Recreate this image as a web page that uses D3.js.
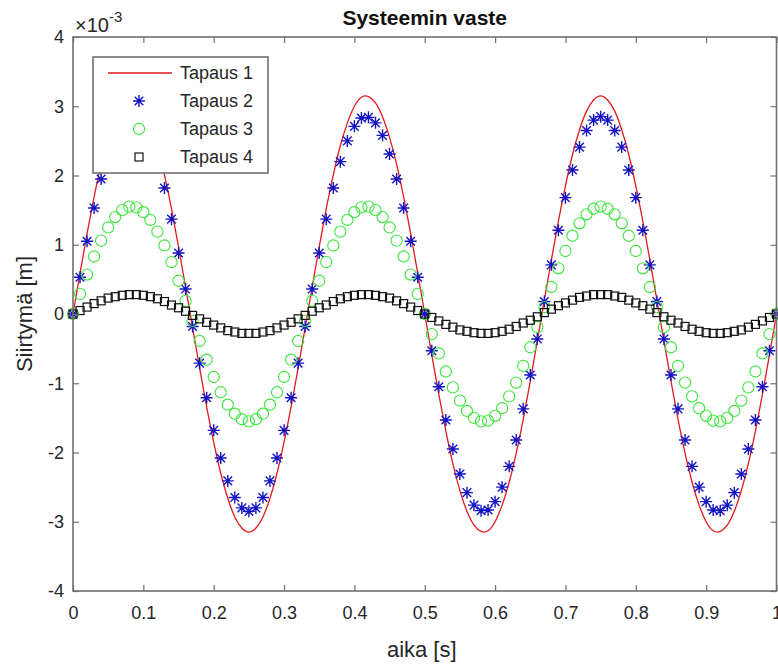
<!DOCTYPE html>
<html>
<head>
<meta charset="utf-8">
<script src="https://cdn.jsdelivr.net/npm/d3@7"></script>
<style>
    body { margin: 0; background: #fff; }
    svg { display: block; font-family: "Liberation Sans", Arial, sans-serif; }
</style>
</head>
<body>
<svg id="chart" width="778" height="664"></svg>
<script>
// Sample times [s]
const time = [
    0, 0.01, 0.02, 0.03, 0.04, 0.05, 0.06, 0.07, 0.08, 0.09,
    0.10, 0.11, 0.12, 0.13, 0.14, 0.15, 0.16, 0.17, 0.18, 0.19,
    0.20, 0.21, 0.22, 0.23, 0.24, 0.25, 0.26, 0.27, 0.28, 0.29,
    0.30, 0.31, 0.32, 0.33, 0.34, 0.35, 0.36, 0.37, 0.38, 0.39,
    0.40, 0.41, 0.42, 0.43, 0.44, 0.45, 0.46, 0.47, 0.48, 0.49,
    0.50, 0.51, 0.52, 0.53, 0.54, 0.55, 0.56, 0.57, 0.58, 0.59,
    0.60, 0.61, 0.62, 0.63, 0.64, 0.65, 0.66, 0.67, 0.68, 0.69,
    0.70, 0.71, 0.72, 0.73, 0.74, 0.75, 0.76, 0.77, 0.78, 0.79,
    0.80, 0.81, 0.82, 0.83, 0.84, 0.85, 0.86, 0.87, 0.88, 0.89,
    0.90, 0.91, 0.92, 0.93, 0.94, 0.95, 0.96, 0.97, 0.98, 0.99,
    1.00
];

// Displacement, in units of 1e-3 m
const tapaus1 = [
    0,
    0.59, 1.16, 1.69, 2.16, 2.55, 2.85, 3.05, 3.14, 3.13, 3.00, 2.76, 2.43, 2.01, 1.52, 0.97, 0.39,
    -0.20, -0.78, -1.34, -1.85, -2.30, -2.66, -2.93, -3.09, -3.15, -3.09, -2.93, -2.66, -2.30, -1.85, -1.34, -0.78, -0.20,
    0.39, 0.97, 1.52, 2.01, 2.43, 2.76, 3.00, 3.13, 3.14, 3.05, 2.85, 2.55, 2.16, 1.69, 1.16, 0.59,
    0,
    -0.59, -1.16, -1.69, -2.16, -2.55, -2.85, -3.05, -3.14, -3.13, -3.00, -2.76, -2.43, -2.01, -1.52, -0.97, -0.39,
    0.20, 0.78, 1.34, 1.85, 2.30, 2.66, 2.93, 3.09, 3.15, 3.09, 2.93, 2.66, 2.30, 1.85, 1.34, 0.78, 0.20,
    -0.39, -0.97, -1.52, -2.01, -2.43, -2.76, -3.00, -3.13, -3.14, -3.05, -2.85, -2.55, -2.16, -1.69, -1.16, -0.59,
    0
];
const tapaus2 = [
    0,
    0.53, 1.05, 1.53, 1.95, 2.31, 2.58, 2.76, 2.84, 2.83, 2.71, 2.50, 2.20, 1.82, 1.37, 0.88, 0.36,
    -0.18, -0.71, -1.21, -1.68, -2.08, -2.41, -2.65, -2.80, -2.85, -2.80, -2.65, -2.41, -2.08, -1.68, -1.21, -0.71, -0.18,
    0.36, 0.88, 1.37, 1.82, 2.20, 2.50, 2.71, 2.83, 2.84, 2.76, 2.58, 2.31, 1.95, 1.53, 1.05, 0.53,
    0,
    -0.53, -1.05, -1.53, -1.95, -2.31, -2.58, -2.76, -2.84, -2.83, -2.71, -2.50, -2.20, -1.82, -1.37, -0.88, -0.36,
    0.18, 0.71, 1.21, 1.68, 2.08, 2.41, 2.65, 2.80, 2.85, 2.80, 2.65, 2.41, 2.08, 1.68, 1.21, 0.71, 0.18,
    -0.36, -0.88, -1.37, -1.82, -2.20, -2.50, -2.71, -2.83, -2.84, -2.76, -2.58, -2.31, -1.95, -1.53, -1.05, -0.53,
    0
];
const tapaus3 = [
    0,
    0.29, 0.57, 0.83, 1.06, 1.25, 1.40, 1.50, 1.55, 1.54, 1.47, 1.36, 1.19, 0.99, 0.75, 0.48, 0.19,
    -0.10, -0.39, -0.66, -0.91, -1.13, -1.31, -1.44, -1.52, -1.55, -1.52, -1.44, -1.31, -1.13, -0.91, -0.66, -0.39, -0.10,
    0.19, 0.48, 0.75, 0.99, 1.19, 1.36, 1.47, 1.54, 1.55, 1.50, 1.40, 1.25, 1.06, 0.83, 0.57, 0.29,
    0,
    -0.29, -0.57, -0.83, -1.06, -1.25, -1.40, -1.50, -1.55, -1.54, -1.47, -1.36, -1.19, -0.99, -0.75, -0.48, -0.19,
    0.10, 0.39, 0.66, 0.91, 1.13, 1.31, 1.44, 1.52, 1.55, 1.52, 1.44, 1.31, 1.13, 0.91, 0.66, 0.39, 0.10,
    -0.19, -0.48, -0.75, -0.99, -1.19, -1.36, -1.47, -1.54, -1.55, -1.50, -1.40, -1.25, -1.06, -0.83, -0.57, -0.29,
    0
];
const tapaus4 = [
    0,
    0.05, 0.10, 0.15, 0.19, 0.23, 0.25, 0.27, 0.28, 0.28, 0.27, 0.25, 0.22, 0.18, 0.13, 0.09, 0.04,
    -0.02, -0.07, -0.12, -0.16, -0.20, -0.24, -0.26, -0.28, -0.28, -0.28, -0.26, -0.24, -0.20, -0.16, -0.12, -0.07, -0.02,
    0.04, 0.09, 0.13, 0.18, 0.22, 0.25, 0.27, 0.28, 0.28, 0.27, 0.25, 0.23, 0.19, 0.15, 0.10, 0.05,
    0,
    -0.05, -0.10, -0.15, -0.19, -0.23, -0.25, -0.27, -0.28, -0.28, -0.27, -0.25, -0.22, -0.18, -0.13, -0.09, -0.04,
    0.02, 0.07, 0.12, 0.16, 0.20, 0.24, 0.26, 0.28, 0.28, 0.28, 0.26, 0.24, 0.20, 0.16, 0.12, 0.07, 0.02,
    -0.04, -0.09, -0.13, -0.18, -0.22, -0.25, -0.27, -0.28, -0.28, -0.27, -0.25, -0.23, -0.19, -0.15, -0.10, -0.05,
    0
];

const xTicks = [0, 0.1, 0.2, 0.3, 0.4, 0.5, 0.6, 0.7, 0.8, 0.9, 1];
const yTicks = [-4, -3, -2, -1, 0, 1, 2, 3, 4];
const seriesNames = ['Tapaus 1', 'Tapaus 2', 'Tapaus 3', 'Tapaus 4'];

// Plot box
const margin = { left: 73, top: 37, right: 1.5, bottom: 73 };
const width = 778 - margin.left - margin.right;
const height = 664 - margin.top - margin.bottom;
const axisColor = '#707070';
const textColor = '#262626';
const blue = '#1414c4';
const green = '#3ee63e';

const svg = d3.select('#chart');
const g = svg.append('g').attr('transform', `translate(${margin.left},${margin.top})`);

const x = d3.scaleLinear().domain([0, 1]).range([0, width]);
const y = d3.scaleLinear().domain([-4, 4]).range([height, 0]);

// Asterisk marker (plus + cross)
const star = 'M-6,0H6M0,-6V6M-4.3,-4.3L4.3,4.3M-4.3,4.3L4.3,-4.3';

function drawRed(sel) {
    sel.attr('fill', 'none').attr('stroke', '#e31a1c').attr('stroke-width', 1.3);
}
function drawStar(sel) {
    sel.attr('d', star).attr('fill', 'none').attr('stroke', blue).attr('stroke-width', 1.4);
}
function drawCircle(sel) {
    sel.attr('r', 5.6).attr('fill', 'none').attr('stroke', green).attr('stroke-width', 1.1);
}
function drawSquare(sel) {
    sel.attr('width', 8).attr('height', 8).attr('fill', 'none').attr('stroke', '#111').attr('stroke-width', 1.2);
}

const plot = g.append('g');

// Tapaus 1: line
plot.append('path')
    .datum(time.map((t, i) => [t, tapaus1[i]]))
    .call(drawRed)
    .attr('d', d3.line().x(d => x(d[0])).y(d => y(d[1])).curve(d3.curveNatural));

// Tapaus 2: stars
plot.append('g').selectAll('path')
    .data(time.map((t, i) => [t, tapaus2[i]]))
    .join('path')
    .attr('transform', d => `translate(${x(d[0])},${y(d[1])})`)
    .call(drawStar);

// Tapaus 3: circles
plot.append('g').selectAll('circle')
    .data(time.map((t, i) => [t, tapaus3[i]]))
    .join('circle')
    .attr('cx', d => x(d[0]))
    .attr('cy', d => y(d[1]))
    .call(drawCircle);

// Tapaus 4: squares
plot.append('g').selectAll('rect')
    .data(time.map((t, i) => [t, tapaus4[i]]))
    .join('rect')
    .attr('x', d => x(d[0]) - 4)
    .attr('y', d => y(d[1]) - 4)
    .call(drawSquare);

// Axes with inward ticks on all four sides
function styleAxis(a) {
    a.select('.domain').remove();
    a.selectAll('.tick line').attr('stroke', axisColor).attr('stroke-width', 1.2);
    a.selectAll('.tick text').attr('fill', textColor).style('font-size', '18px');
}

g.append('g')
    .attr('transform', `translate(0,${height})`)
    .call(d3.axisBottom(x).tickValues(xTicks).tickSizeInner(-6).tickSizeOuter(0).tickPadding(15)
        .tickFormat(d => String(d)))
    .call(styleAxis);

g.append('g')
    .call(d3.axisTop(x).tickValues(xTicks).tickSizeInner(-6).tickSizeOuter(0).tickFormat(''))
    .call(styleAxis);

g.append('g')
    .call(d3.axisLeft(y).tickValues(yTicks).tickSizeInner(-6).tickSizeOuter(0).tickPadding(9)
        .tickFormat(d => String(d)))
    .call(styleAxis);

g.append('g')
    .attr('transform', `translate(${width},0)`)
    .call(d3.axisRight(y).tickValues(yTicks).tickSizeInner(-6).tickSizeOuter(0).tickFormat(''))
    .call(styleAxis);

g.append('rect')
    .attr('width', width)
    .attr('height', height)
    .attr('fill', 'none')
    .attr('stroke', axisColor)
    .attr('stroke-width', 1.6);

// Exponent label
const expo = svg.append('text')
    .attr('x', 75)
    .attr('y', 32)
    .attr('fill', textColor)
    .style('font-size', '20px');
expo.append('tspan').text('\u00d710');
expo.append('tspan').attr('dy', -10).style('font-size', '15px').text('-3');

// Title and axis labels
svg.append('text')
    .attr('x', margin.left + width / 2)
    .attr('y', 25)
    .attr('text-anchor', 'middle')
    .attr('fill', '#111')
    .style('font-size', '21px')
    .style('font-weight', 'bold')
    .text('Systeemin vaste');

svg.append('text')
    .attr('x', margin.left + width / 2 - 3)
    .attr('y', 657)
    .attr('text-anchor', 'middle')
    .attr('fill', textColor)
    .style('font-size', '22px')
    .text('aika [s]');

svg.append('text')
    .attr('transform', `translate(32,${margin.top + height / 2}) rotate(-90)`)
    .attr('text-anchor', 'middle')
    .attr('fill', textColor)
    .style('font-size', '22px')
    .text('Siirtymä [m]');

// Legend
const legend = svg.append('g').attr('transform', 'translate(93,57)');
legend.append('rect')
    .attr('width', 175)
    .attr('height', 116)
    .attr('fill', '#fff')
    .attr('stroke', axisColor)
    .attr('stroke-width', 1.6);

legend.selectAll('text')
    .data(seriesNames)
    .join('text')
    .attr('x', 87)
    .attr('y', (d, i) => 16 + i * 28)
    .attr('dy', '0.35em')
    .attr('fill', textColor)
    .style('font-size', '18px')
    .text(d => d);

legend.append('line')
    .attr('x1', 15).attr('x2', 79).attr('y1', 16).attr('y2', 16)
    .call(drawRed);
legend.append('path')
    .attr('transform', 'translate(46,44)')
    .call(drawStar);
legend.append('circle')
    .attr('cx', 46).attr('cy', 72)
    .call(drawCircle);
legend.append('rect')
    .attr('x', 42).attr('y', 96)
    .call(drawSquare);
</script>
</body>
</html>
